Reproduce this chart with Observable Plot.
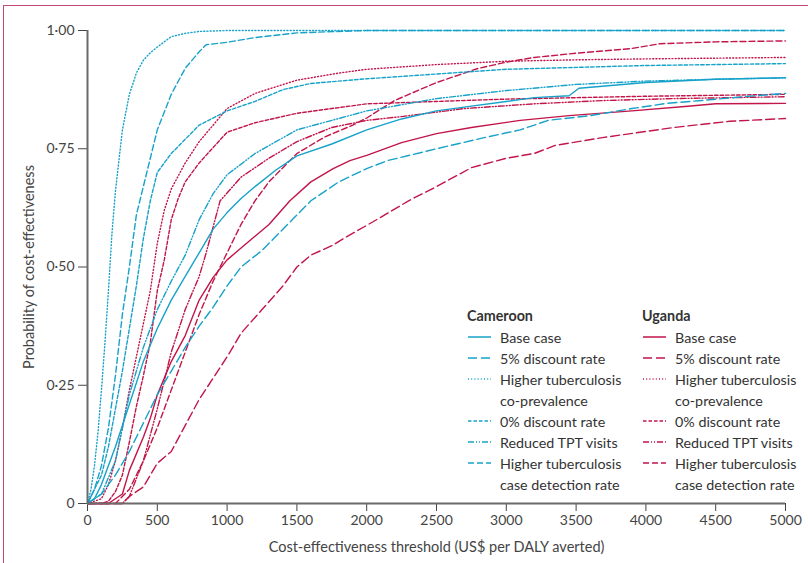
<!DOCTYPE html>
<html><head><meta charset="utf-8">
<script src="https://cdn.jsdelivr.net/npm/d3@7"></script>
<script src="https://cdn.jsdelivr.net/npm/@observablehq/plot@0.6"></script>
<style>
html,body{margin:0;padding:0;background:#fff;}
#wrap{position:relative;width:808px;height:563px;overflow:hidden;font-family:Lato,sans-serif;}
#frame{position:absolute;left:3px;top:5px;width:900px;height:700px;border-left:1.5px solid #c4477a;border-top:1.5px solid #c4477a;}
#chart{position:absolute;left:0;top:0;}
#chart g[aria-label="y-axis label"] text, #chart g[aria-label="x-axis label"] text{font-size:14.5px;}
.lg{position:absolute;font-size:14.3px;color:#333;white-space:nowrap;line-height:21px;}
.lg b{font-weight:700;}
</style>
</head><body>
<div id="wrap"><div id="frame"></div><div id="chart"></div></div>
<script>
// ---- data (threshold US$ per DALY averted, probability) ----
const xTicks = [0,500,1000,1500,2000,2500,3000,3500,4000,4500,5000];
const yTicks = [0,0.25,0.5,0.75,1];
const countries = ["Cameroon","Uganda"];
const scenarios = ["Base case","5% discount rate","Higher tuberculosis co-prevalence","0% discount rate","Reduced TPT visits","Higher tuberculosis case detection rate"];
const legendLines = [["Base case"],["5% discount rate"],["Higher tuberculosis","co-prevalence"],["0% discount rate"],["Reduced TPT visits"],["Higher tuberculosis","case detection rate"]];

const camBase = [[0,0],[50,0.01],[100,0.04],[200,0.12],[300,0.21],[400,0.30],[500,0.37],[600,0.43],[700,0.48],[800,0.53],[900,0.58],[1000,0.615],[1100,0.645],[1200,0.67],[1350,0.705],[1500,0.735],[1750,0.76],[2000,0.79],[2250,0.813],[2500,0.83],[2750,0.84],[3000,0.85],[3200,0.858],[3450,0.862],[3520,0.878],[4000,0.89],[4500,0.897],[5000,0.9]];
const cam5 = [[0,0],[100,0.02],[200,0.06],[300,0.11],[400,0.17],[500,0.23],[600,0.28],[700,0.33],[800,0.375],[900,0.415],[1000,0.46],[1100,0.5],[1250,0.535],[1400,0.58],[1500,0.61],[1600,0.64],[1800,0.68],[2000,0.708],[2150,0.725],[2500,0.75],[2850,0.774],[3100,0.79],[3300,0.81],[3600,0.82],[3900,0.835],[4150,0.846],[4400,0.852],[4700,0.86],[5000,0.867]];
const camCoprev = [[0,0],[25,0.03],[50,0.08],[75,0.15],[100,0.24],[125,0.34],[150,0.45],[175,0.57],[200,0.66],[250,0.79],[300,0.865],[350,0.91],[400,0.937],[450,0.953],[500,0.965],[600,0.987],[700,0.994],[800,0.998],[1000,1],[5000,1]];
const cam0 = [[0,0],[50,0.03],[100,0.06],[150,0.12],[200,0.2],[250,0.28],[300,0.37],[350,0.46],[400,0.56],[450,0.64],[500,0.7],[600,0.74],[700,0.77],[800,0.8],[1000,0.83],[1200,0.85],[1400,0.875],[1600,0.888],[2000,0.898],[2500,0.908],[3000,0.918],[3500,0.922],[4000,0.926],[4500,0.928],[5000,0.93]];
const camTpt = [[0,0],[100,0.02],[200,0.09],[300,0.23],[400,0.33],[500,0.41],[600,0.47],[700,0.525],[800,0.6],[900,0.655],[1000,0.695],[1200,0.74],[1500,0.79],[2000,0.83],[2500,0.856],[3000,0.873],[3500,0.886],[4000,0.893],[4500,0.897],[5000,0.9]];
const camCase = [[0,0],[50,0.03],[100,0.08],[150,0.16],[200,0.27],[250,0.4],[300,0.5],[350,0.61],[400,0.67],[500,0.79],[600,0.865],[700,0.92],[800,0.955],[850,0.97],[1000,0.975],[1200,0.985],[1500,0.995],[2000,1],[5000,1]];

const ugBase = [[0,0],[150,0],[250,0.02],[300,0.07],[400,0.14],[450,0.18],[500,0.23],[600,0.3],[700,0.355],[800,0.43],[900,0.478],[1000,0.515],[1100,0.54],[1300,0.59],[1450,0.64],[1600,0.68],[1760,0.708],[1880,0.725],[2000,0.736],[2250,0.763],[2500,0.782],[2750,0.795],[3100,0.81],[3450,0.82],[3900,0.83],[4300,0.84],[4500,0.845],[5000,0.846]];
const ug5 = [[0,0],[250,0],[300,0.015],[400,0.035],[500,0.085],[600,0.11],[700,0.165],[800,0.22],[900,0.265],[1000,0.31],[1100,0.36],[1250,0.41],[1400,0.46],[1500,0.5],[1600,0.525],[1750,0.545],[1850,0.563],[2000,0.588],[2100,0.605],[2300,0.64],[2500,0.67],[2750,0.71],[3000,0.73],[3200,0.74],[3350,0.757],[3700,0.774],[4200,0.795],[4600,0.808],[5000,0.814]];
const ugCoprev = [[0,0],[100,0.01],[150,0.04],[200,0.09],[250,0.16],[300,0.24],[350,0.31],[400,0.38],[450,0.45],[500,0.55],[550,0.62],[600,0.665],[700,0.72],[800,0.765],[1000,0.835],[1200,0.867],[1500,0.895],[1800,0.91],[2000,0.918],[2500,0.928],[3000,0.935],[3500,0.938],[4000,0.94],[5000,0.943]];
const ug0 = [[0,0],[100,0],[150,0.005],[200,0.025],[250,0.06],[300,0.13],[350,0.205],[400,0.27],[450,0.34],[500,0.45],[550,0.515],[600,0.6],[650,0.645],[700,0.68],[800,0.72],[1000,0.785],[1200,0.805],[1500,0.825],[2000,0.845],[2500,0.85],[3000,0.855],[3500,0.858],[4000,0.861],[4500,0.863],[5000,0.865]];
const ugTpt = [[0,0],[250,0],[300,0.015],[400,0.09],[500,0.2],[600,0.32],[700,0.41],[800,0.48],[850,0.53],[950,0.64],[1100,0.69],[1300,0.73],[1500,0.765],[1750,0.795],[2000,0.81],[2250,0.818],[2700,0.835],[3200,0.845],[3700,0.852],[4200,0.856],[5000,0.86]];
const ugCase = [[0,0],[200,0],[300,0.03],[400,0.09],[500,0.16],[600,0.24],[700,0.32],[800,0.4],[900,0.47],[1000,0.53],[1100,0.59],[1200,0.64],[1300,0.68],[1500,0.74],[1700,0.775],[1900,0.8],[2000,0.815],[2200,0.852],[2500,0.89],[2800,0.92],[3000,0.933],[3200,0.943],[3500,0.952],[3900,0.962],[4100,0.972],[4500,0.976],[5000,0.978]];

// ---- styles ----
const colors = {Cameroon:"#17a2c9", Uganda:"#c2154a"};
const dashes = ["none","9,4","1,2.2","3.5,2","6,2,1,2,1,2","6,3"];

const seriesData = {
  Cameroon:[camBase,cam5,camCoprev,cam0,camTpt,camCase],
  Uganda:[ugBase,ug5,ugCoprev,ug0,ugTpt,ugCase]
};

const lineMarks = [];
for (const c of ["Uganda","Cameroon"]) {
  seriesData[c].forEach((arr,i)=>{
    lineMarks.push(Plot.line(arr.map(([x,y])=>({x,y})),{x:"x",y:"y",stroke:colors[c],strokeWidth:1.4,strokeDasharray:dashes[i]}));
  });
}

const fmtY = d => d===0 ? "0" : d.toFixed(2).replace(".","\u00b7");

const chart = Plot.plot({
  width:808, height:563,
  marginLeft:87, marginRight:23, marginTop:30, marginBottom:60,
  style:{fontFamily:"Lato, sans-serif", fontSize:"14px", color:"#444", background:"transparent", overflow:"visible"},
  x:{domain:[0,5000], ticks:xTicks, tickSize:8, tickPadding:4, tickFormat:d=>String(d), label:"Cost-effectiveness threshold (US$ per DALY averted)", labelAnchor:"center", labelOffset:48, labelArrow:"none"},
  y:{domain:[0,1], ticks:yTicks, tickSize:9, tickPadding:4, tickFormat:fmtY, label:"Probability of cost-effectiveness", labelAnchor:"center", labelOffset:64, labelArrow:"none"},
  marks:[
    ...lineMarks,
    Plot.ruleY([0],{stroke:"#6b6b6b",strokeWidth:2}),
    Plot.ruleX([0],{stroke:"#6b6b6b",strokeWidth:2})
  ]
});
document.getElementById("chart").appendChild(chart);

// ---- legend ----
const wrap = document.getElementById("wrap");
const legendX = {Cameroon:467, Uganda:642};
countries.forEach(c=>{
  const h = document.createElement("div");
  h.className="lg"; h.style.left=legendX[c]+"px"; h.style.top=(315-10.5)+"px";
  h.innerHTML="<b>"+c+"</b>"; wrap.appendChild(h);
  let row=0;
  legendLines.forEach((lines,i)=>{
    const cy = 337 + row*21;
    const svgNS="http://www.w3.org/2000/svg";
    const s=document.createElementNS(svgNS,"svg");
    s.setAttribute("width","24"); s.setAttribute("height","6");
    s.style.position="absolute"; s.style.left=(legendX[c]+1)+"px"; s.style.top=(cy-3)+"px";
    const l=document.createElementNS(svgNS,"line");
    l.setAttribute("x1","0");l.setAttribute("x2","23");l.setAttribute("y1","3");l.setAttribute("y2","3");
    l.setAttribute("stroke",colors[c]);l.setAttribute("stroke-width","1.5");
    if(dashes[i]!=="none") l.setAttribute("stroke-dasharray",dashes[i]);
    s.appendChild(l); wrap.appendChild(s);
    lines.forEach((t,k)=>{
      const d=document.createElement("div");
      d.className="lg"; d.style.left=(legendX[c]+33)+"px"; d.style.top=(cy+k*21-10.5)+"px";
      d.textContent=t; wrap.appendChild(d);
    });
    row += lines.length;
  });
});
</script>
</body></html>
